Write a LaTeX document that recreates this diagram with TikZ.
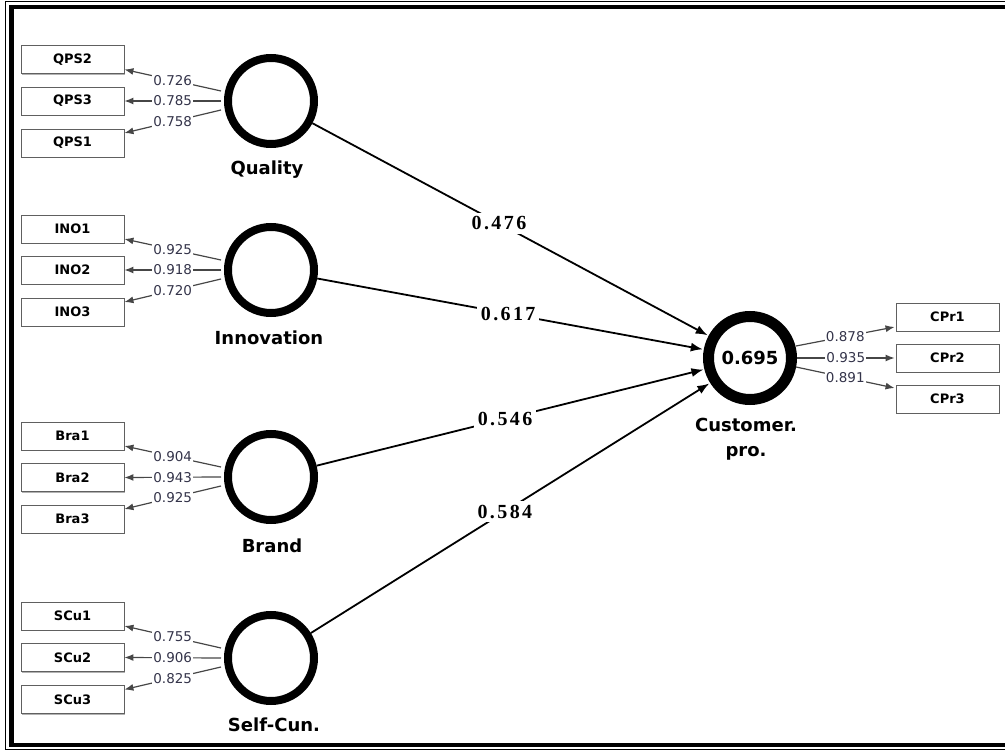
\documentclass[tikz,border=0pt]{standalone}
\usepackage{fontspec}
\setmainfont{DejaVu Sans}
\newfontfamily\serifb[LetterSpace=12]{Liberation Serif}
\usetikzlibrary{arrows.meta,calc,shadows}
\definecolor{loadtxt}{HTML}{34344A}
\begin{document}
\begin{tikzpicture}[x=1pt,y=-1pt,
 ind/.style={draw=gray!75!black, fill=white, line width=0.9pt, minimum width=103pt, minimum height=28pt, inner sep=0pt,
   font=\fontsize{13}{14}\selectfont\bfseries,
   drop shadow={shadow xshift=1.2pt, shadow yshift=-1.2pt, fill=gray!60, opacity=1}},
 lat/.style={circle, draw=black, fill=white, line width=8pt, minimum size=86pt, inner sep=0pt},
 endo/.style={circle, draw=black, fill=white, line width=11pt, minimum size=83pt, inner sep=0pt,
   font=\fontsize{18}{20}\selectfont\bfseries},
 latlab/.style={font=\fontsize{18}{25}\selectfont\bfseries},
 load/.style={draw=gray!55!black, line width=1.2pt, -{Latex[length=9pt,width=7pt]}},
 loadlab/.style={fill=white, inner sep=1pt, text=loadtxt, font=\fontsize{13.5}{14}\selectfont},
 pathln/.style={draw=black, line width=1.8pt, -{Latex[length=12pt,width=9pt]}, shorten >=1pt},
 pathlab/.style={fill=white, inner sep=4pt, font=\serifb\fontsize{20}{22}\selectfont\bfseries}
]
\useasboundingbox (0,0) rectangle (1005,751);
% frame
\draw[line width=1pt] (1012,1.5) -- (5.5,1.5) -- (5.5,749.5) -- (1012,749.5);
\draw[line width=4.5pt] (1012,7) -- (11.5,7) -- (11.5,745) -- (1012,745);

% latent variables
\node[lat] (Q) at (271,101) {};
\node[lat] (I) at (271,270) {};
\node[lat] (B) at (271,477) {};
\node[lat] (S) at (271,658) {};
\node[endo] (C) at (750,358) {0.695};

\node[latlab] (Ql) at (267,170) {Quality};
\node[latlab] (Il) at (269,338) {Innovation};
\node[latlab] (Bl) at (272,546) {Brand};
\node[latlab] (Sl) at (274,725) {Self-Cun.};
\node[latlab, align=center, inner sep=0pt] (Cl) at (746,439) {Customer.\\pro.};

% indicators
\node[ind] (qps2) at (72.5,59.5) {QPS2};
\node[ind] (qps3) at (72.5,101) {QPS3};
\node[ind] (qps1) at (72.5,143) {QPS1};
\node[ind] (ino1) at (72.5,229) {INO1};
\node[ind] (ino2) at (72.5,270) {INO2};
\node[ind] (ino3) at (72.5,312) {INO3};
\node[ind] (bra1) at (72.5,436) {Bra1};
\node[ind] (bra2) at (72.5,477.5) {Bra2};
\node[ind] (bra3) at (72.5,519) {Bra3};
\node[ind] (scu1) at (72.5,616) {SCu1};
\node[ind] (scu2) at (72.5,657.5) {SCu2};
\node[ind] (scu3) at (72.5,699.5) {SCu3};
\node[ind] (cpr1) at (947.5,317) {CPr1};
\node[ind] (cpr2) at (947.5,358) {CPr2};
\node[ind] (cpr3) at (947.5,399) {CPr3};

% loadings
\foreach \L/\a/\b/\c/\va/\vb/\vc in {Q/qps2/qps3/qps1/0.726/0.785/0.758,
  I/ino1/ino2/ino3/0.925/0.918/0.720,
  B/bra1/bra2/bra3/0.904/0.943/0.925,
  S/scu1/scu2/scu3/0.755/0.906/0.825}{
  \draw[load] ($(\L.west)+(-3,-10)$) -- node[loadlab]{\va} ($(\a.east)+(0,10)$);
  \draw[load] ($(\L.west)+(-3,0)$) -- node[loadlab]{\vb} (\b.east);
  \draw[load] ($(\L.west)+(-3,9)$) -- node[loadlab]{\vc} ($(\c.east)+(0,-10)$);
}
\draw[load] ($(C.east)+(-1,-12)$) -- node[loadlab]{0.878} ($(cpr1.west)+(-1,10)$);
\draw[load] ($(C.east)+(0,0)$) -- node[loadlab]{0.935} ($(cpr2.west)+(-1,0)$);
\draw[load] ($(C.east)+(-1,9)$) -- node[loadlab]{0.891} ($(cpr3.west)+(-1,-11)$);

% paths
\draw[pathln] (Q) -- node[pathlab, pos=.471]{0.476} (C);
\draw[pathln] (I) -- node[pathlab, pos=.494]{0.617} (C);
\draw[pathln] (B) -- node[pathlab, pos=.486]{0.546} (C);
\draw[pathln] (S) -- node[pathlab, pos=.486]{0.584} (C);
\end{tikzpicture}
\end{document}
